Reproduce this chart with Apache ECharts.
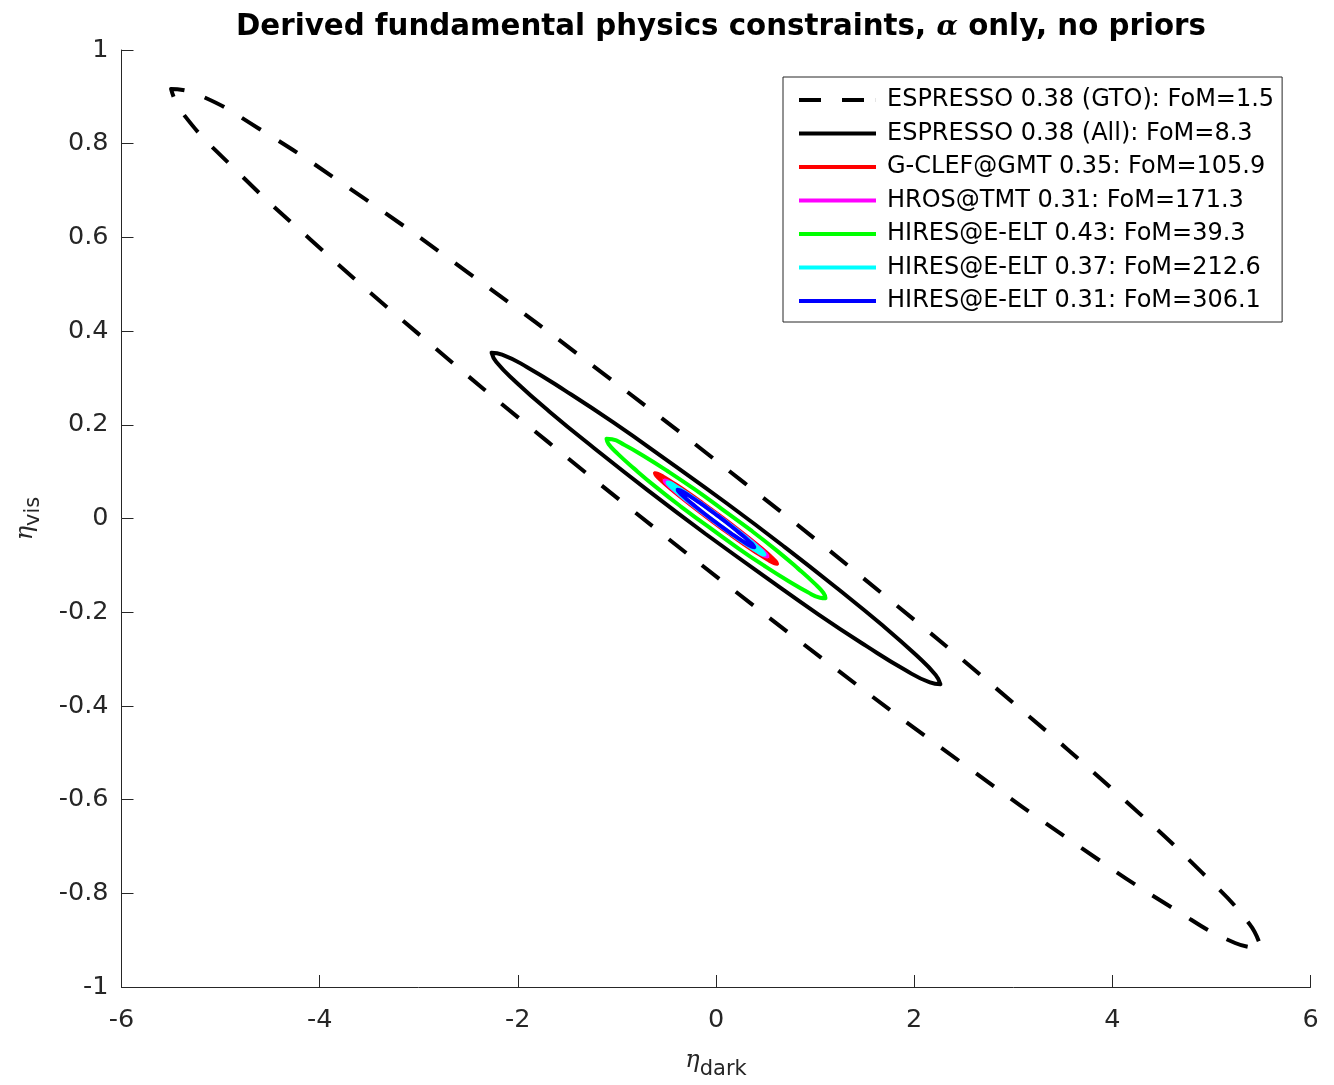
<!DOCTYPE html>
<html><head><meta charset="utf-8">
<script src="https://cdn.jsdelivr.net/npm/echarts@6/dist/echarts.min.js"></script>
<style>html,body{margin:0;padding:0;background:#fff}#c{width:1334px;height:1085px}</style>
</head><body><div id="c"></div>
<script>
// ---- data ----
const seriesNames = [
  'ESPRESSO 0.38 (GTO): FoM=1.5',
  'ESPRESSO 0.38 (All): FoM=8.3',
  'G-CLEF@GMT 0.35: FoM=105.9',
  'HROS@TMT 0.31: FoM=171.3',
  'HIRES@E-ELT 0.43: FoM=39.3',
  'HIRES@E-ELT 0.37: FoM=212.6',
  'HIRES@E-ELT 0.31: FoM=306.1'
];
const xTicks = [-6, -4, -2, 0, 2, 4, 6];
const yTicks = [-1, -0.8, -0.6, -0.4, -0.2, 0, 0.2, 0.4, 0.6, 0.8, 1];

const gtoX = [-0.286,-1.699,-2.997,-4.091,-4.906,-5.386,-5.500,-5.239,-4.620,-3.687,-2.503,-1.148,0.286,1.699,2.997,4.091,4.906,5.386,5.500,5.239,4.620,3.687,2.503,1.148,-0.286];
const gtoY = [-0.076,0.164,0.393,0.595,0.756,0.866,0.917,0.906,0.833,0.703,0.525,0.311,0.076,-0.164,-0.393,-0.595,-0.756,-0.866,-0.917,-0.906,-0.833,-0.703,-0.525,-0.311,-0.076];

const allX = [-0.111,-0.694,-1.229,-1.680,-2.017,-2.217,-2.265,-2.159,-1.906,-1.523,-1.036,-0.479,0.111,0.694,1.229,1.680,2.017,2.217,2.265,2.159,1.906,1.523,1.036,0.479,-0.111];
const allY = [-0.032,0.061,0.150,0.228,0.291,0.334,0.354,0.350,0.323,0.273,0.205,0.122,0.032,-0.061,-0.150,-0.228,-0.291,-0.334,-0.354,-0.350,-0.323,-0.273,-0.205,-0.122,-0.032];

const gclefX = [-0.027,-0.186,-0.331,-0.455,-0.547,-0.602,-0.616,-0.588,-0.520,-0.416,-0.284,-0.133,0.027,0.186,0.331,0.455,0.547,0.602,0.616,0.588,0.520,0.416,0.284,0.133,-0.027];
const gclefY = [-0.0077,0.0177,0.0417,0.0630,0.0800,0.0915,0.0968,0.0955,0.0876,0.0738,0.0551,0.0325,0.0077,-0.0177,-0.0417,-0.0630,-0.0800,-0.0915,-0.0968,-0.0955,-0.0876,-0.0738,-0.0551,-0.0325,-0.0077];

const hrosX = [-0.022,-0.155,-0.278,-0.382,-0.460,-0.507,-0.519,-0.496,-0.439,-0.352,-0.241,-0.113,0.022,0.155,0.278,0.382,0.460,0.507,0.519,0.496,0.439,0.352,0.241,0.113,-0.022];
const hrosY = [-0.0062,0.0150,0.0352,0.0529,0.0670,0.0766,0.0810,0.0798,0.0732,0.0617,0.0458,0.0270,0.0062,-0.0150,-0.0352,-0.0529,-0.0670,-0.0766,-0.0810,-0.0798,-0.0732,-0.0617,-0.0458,-0.0270,-0.0062];

const hires43X = [-0.067,-0.351,-0.611,-0.829,-0.991,-1.085,-1.105,-1.050,-0.923,-0.734,-0.494,-0.221,0.067,0.351,0.611,0.829,0.991,1.085,1.105,1.050,0.923,0.734,0.494,0.221,-0.067];
const hires43Y = [-0.019,0.025,0.068,0.107,0.138,0.159,0.170,0.169,0.157,0.134,0.102,0.063,0.019,-0.025,-0.068,-0.107,-0.138,-0.159,-0.170,-0.169,-0.157,-0.134,-0.102,-0.063,-0.019];

const hires37X = [-0.021,-0.146,-0.262,-0.360,-0.434,-0.478,-0.489,-0.467,-0.413,-0.331,-0.227,-0.107,0.021,0.146,0.262,0.360,0.434,0.478,0.489,0.467,0.413,0.331,0.227,0.107,-0.021];
const hires37Y = [-0.0058,0.0144,0.0336,0.0504,0.0639,0.0730,0.0771,0.0760,0.0697,0.0586,0.0436,0.0256,0.0058,-0.0144,-0.0336,-0.0504,-0.0639,-0.0730,-0.0771,-0.0760,-0.0697,-0.0586,-0.0436,-0.0256,-0.0058];

const hires31X = [-0.019,-0.119,-0.210,-0.287,-0.345,-0.379,-0.387,-0.369,-0.325,-0.260,-0.177,-0.081,0.019,0.119,0.210,0.287,0.345,0.379,0.387,0.369,0.325,0.260,0.177,0.081,-0.019];
const hires31Y = [-0.0054,0.0106,0.0261,0.0397,0.0506,0.0580,0.0615,0.0608,0.0560,0.0473,0.0355,0.0212,0.0054,-0.0106,-0.0261,-0.0397,-0.0506,-0.0580,-0.0615,-0.0608,-0.0560,-0.0473,-0.0355,-0.0212,-0.0054];

// ---- styles ----
const seriesX = [gtoX, allX, gclefX, hrosX, hires43X, hires37X, hires31X];
const seriesY = [gtoY, allY, gclefY, hrosY, hires43Y, hires37Y, hires31Y];
const colors = ['#000000', '#000000', '#ff0000', '#ff00ff', '#00ff00', '#00ffff', '#0000ff'];
const dashes = [[22, 21], 'solid', 'solid', 'solid', 'solid', 'solid', 'solid'];
const legendIcons = [
  'path://M0,0h22v4h-22zM43,0h22v4h-22zM76.9,0h0.1v4h-0.1z',
  'rect', 'rect', 'rect', 'rect', 'rect', 'rect'
];

const axisColor = '#262626';
const font = 'DejaVu Sans';

const series = seriesNames.map((name, k) => ({
  name: name,
  type: 'line',
  data: seriesX[k].map((x, i) => [x, seriesY[k][i]]),
  showSymbol: false,
  symbol: 'none',
  smooth: 0.5,
  lineStyle: { color: colors[k], width: 4, type: dashes[k], dashOffset: 41, cap: 'butt', join: 'round' },
  itemStyle: { color: colors[k] },
  z: 2 + k
}));

const etaRich = {
  e: { fontFamily: 'DejaVu Serif', fontStyle: 'italic', fontSize: 24, color: '#262626', lineHeight: 24, verticalAlign: 'top' },
  s: { fontFamily: font, fontSize: 21, color: '#262626', lineHeight: 22, padding: [10, 0, 0, 0], verticalAlign: 'top' }
};

const chart = echarts.init(document.getElementById('c'), null, { renderer: 'canvas' });
chart.setOption({
  animation: false,
  backgroundColor: '#ffffff',
  title: {
    text: '{b|Derived fundamental physics constraints, }{a|α}{b| only, no priors}',
    left: 231,
    top: 8,
    textStyle: {
      rich: {
        b: { fontFamily: font, fontWeight: 'bold', fontSize: 29.3, color: '#000' },
        a: { fontFamily: 'DejaVu Serif', fontStyle: 'italic', fontSize: 28, color: '#000' }
      }
    }
  },
  grid: { left: 121.5, right: 23.5, top: 50, bottom: 95, containLabel: false },
  legend: {
    show: true,
    orient: 'vertical',
    left: 783,
    top: 77,
    padding: [11, 8, 9, 16],
    itemWidth: 77,
    itemHeight: 4,
    itemGap: 9.5,
    backgroundColor: '#ffffff',
    borderColor: '#262626',
    borderWidth: 1,
    borderRadius: 0,
    textStyle: { fontFamily: font, fontSize: 24, color: '#000', lineHeight: 24, padding: [0, 0, 0, 6] },
    data: seriesNames.map((n, k) => ({ name: n, icon: legendIcons[k], itemStyle: { color: colors[k] } }))
  },
  xAxis: {
    type: 'value', min: -6, max: 6, interval: 2,
    name: '{e|η}{s|dark}',
    nameLocation: 'middle',
    nameGap: 62,
    nameTextStyle: { rich: etaRich },
    axisLine: { show: true, onZero: false, lineStyle: { color: axisColor, width: 1 } },
    axisTick: { show: true, inside: true, length: 12, lineStyle: { color: axisColor } },
    axisLabel: { fontFamily: font, fontSize: 25.5, color: axisColor, margin: 20 },
    splitLine: { show: false }
  },
  yAxis: {
    type: 'value', min: -1, max: 1, interval: 0.2,
    name: '{e|η}{s|vis}',
    nameLocation: 'middle',
    nameGap: 84,
    nameRotate: 90,
    nameTextStyle: { rich: etaRich },
    axisLine: { show: true, onZero: false, lineStyle: { color: axisColor, width: 1 } },
    axisTick: { show: true, inside: true, length: 12, lineStyle: { color: axisColor } },
    axisLabel: { fontFamily: font, fontSize: 25.5, color: axisColor, margin: 13 },
    splitLine: { show: false }
  },
  series: series
});
</script></body></html>
